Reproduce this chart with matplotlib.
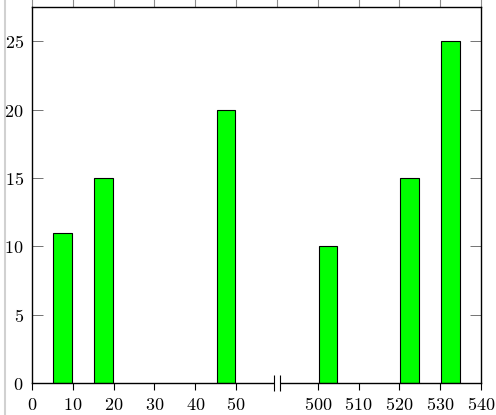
import numpy as np
import matplotlib
matplotlib.use("Agg")
import matplotlib.pyplot as plt
from matplotlib.patches import Rectangle
from matplotlib.lines import Line2D

plt.rcParams["mathtext.fontset"] = "cm"

# bar data
bar_x = [7.5, 17.5, 47.5, 502.5, 522.5, 532.5]
bar_h = [11, 15, 20, 10, 15, 25]
xticks = [0, 10, 20, 30, 40, 50, 500, 510, 520, 530, 540]
yticks = [0, 5, 10, 15, 20, 25]
top_marks = [0, 10, 20, 30, 40, 50, 60, 500, 510, 520, 530, 540]
break_at = 60


# broken x axis: 65..495 is squeezed out
def fwd(x):
    x = np.asarray(x, dtype=float)
    return np.where(x < 65, x, np.where(x > 495, x - 430, 65))


def inv(m):
    m = np.asarray(m, dtype=float)
    return np.where(m < 65, m, m + 430)


fig = plt.figure(figsize=(4.96, 4.15), dpi=100)
ax = fig.add_axes([32 / 496, 32 / 415, 449 / 496, 376 / 415])
ax.set_xscale("function", functions=(fwd, inv))

ax.bar(bar_x, bar_h, width=4.5, color="#00ff00", edgecolor="black", linewidth=0.8, zorder=2)

ax.set_xlim(0, 540)
ax.set_ylim(0, 27.5)
ax.set_xticks(xticks)
ax.set_xticklabels([f"${v}$" for v in xticks], fontsize=13)
ax.set_yticks(yticks)
ax.set_yticklabels([f"${v}$" for v in yticks], fontsize=13)
ax.xaxis.set_minor_locator(matplotlib.ticker.NullLocator())
ax.yaxis.set_minor_locator(matplotlib.ticker.NullLocator())

ax.tick_params(axis="x", direction="out", length=5, width=0.8, pad=4, top=False)
ax.tick_params(axis="y", direction="in", length=8, width=0.7, color="0.45", pad=6, right=True)

for s in ax.spines.values():
    s.set_linewidth(1.0)

# gray ticks poking above the frame
tr = ax.get_xaxis_transform()
ax.vlines(top_marks, 1.0, 1.02, transform=tr, colors="0.55", linewidth=0.8, clip_on=False)

# axis break marker
lo, hi = break_at - 0.7, break_at + 0.7
ax.add_patch(Rectangle((lo, -0.004), hi - lo, 0.008, transform=tr, facecolor="white",
                       edgecolor="none", clip_on=False, zorder=5))
ax.vlines([lo, hi], -0.02, 0.02, transform=tr, colors="black", linewidth=0.8,
          clip_on=False, zorder=6)

# page edge on the far left
fig.add_artist(Line2D([4.5 / 496, 4.5 / 496], [0, 1], color="0.82", linewidth=1.5))

fig.savefig("out.png", dpi=100)
